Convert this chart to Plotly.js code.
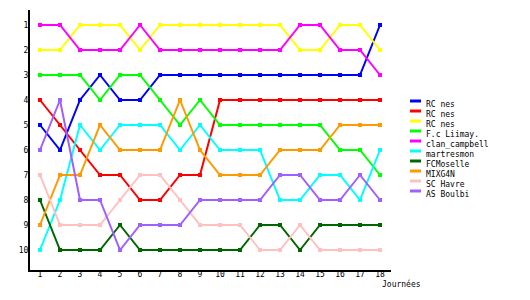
<!DOCTYPE html>
<html>
<head>
<meta charset="utf-8">
<script src="https://cdn.plot.ly/plotly-3.0.1.min.js"></script>
<style>html,body{margin:0;padding:0;background:#fff;}#chart{width:530px;height:300px;}</style>
</head>
<body>
<div id="chart"></div>
<script>
var journees = [1,2,3,4,5,6,7,8,9,10,11,12,13,14,15,16,17,18];
var teamNames = ["RC nes","RC nes","RC nes","F.c Liimay.","clan_campbell","martresmon","FCMoselle","MIXG4N","SC Havre","AS Boulbi"];
var teamColors = ["#0000ff","#ff0000","#ffff00","#00ff00","#ff00ff","#00ffff","#006600","#ff9900","#ffc0c0","#a060ff"];
var rcNesBlue   = [5,6,4,3,4,4,3,3,3,3,3,3,3,3,3,3,3,1];
var rcNesRed    = [4,5,6,7,7,8,8,7,7,4,4,4,4,4,4,4,4,4];
var rcNesYellow = [2,2,1,1,1,2,1,1,1,1,1,1,1,2,2,1,1,2];
var fcLiimay    = [3,3,3,4,3,3,4,5,4,5,5,5,5,5,5,6,6,7];
var clanCampbell= [1,1,2,2,2,1,2,2,2,2,2,2,2,1,1,2,2,3];
var martresmon  = [10,8,5,6,5,5,5,6,5,6,6,6,8,8,7,7,8,6];
var fcMoselle   = [8,10,10,10,9,10,10,10,10,10,10,9,9,10,9,9,9,9];
var mixg4n      = [9,7,7,5,6,6,6,4,6,7,7,7,6,6,6,5,5,5];
var scHavre     = [7,9,9,9,8,7,7,8,9,9,9,10,10,9,10,10,10,10];
var asBoulbi    = [6,4,8,8,10,9,9,9,8,8,8,8,7,7,8,8,7,8];
var rankTicks   = [1,2,3,4,5,6,7,8,9,10];
var xTitle = "Journées";

var series = [rcNesBlue,rcNesRed,rcNesYellow,fcLiimay,clanCampbell,martresmon,fcMoselle,mixg4n,scHavre,asBoulbi];
var FONT = "DejaVu Sans Mono";

var traces = series.map(function(s,i){
  return {x: journees, y: s, name: teamNames[i], type:"scatter", mode:"lines+markers",
    line:{color: teamColors[i], width:2},
    marker:{color: teamColors[i], size:4, symbol:"square"}};
});

// plot area in pixels: x 30..391, y 10..270
function px2x(px){return (px-30)/361;}
function py2y(py){return (270-py)/260;}

var shapes = [], annotations = [];
teamNames.forEach(function(n,i){
  var yy = 101 + i*10;
  shapes.push({type:"line", xref:"paper", yref:"paper", x0:px2x(410), x1:px2x(421), y0:py2y(yy), y1:py2y(yy),
    line:{color:teamColors[i], width:3}});
  annotations.push({xref:"paper", yref:"paper", x:px2x(424), y:py2y(yy+3.5), text:n, showarrow:false,
    xanchor:"left", yanchor:"middle", font:{family:FONT, size:8, color:"#000"}});
});
annotations.push({xref:"paper", yref:"paper", x:px2x(380), y:py2y(284), text:xTitle, showarrow:false,
  xanchor:"left", yanchor:"middle", font:{family:FONT, size:8, color:"#000"}});

var layout = {
  width:530, height:300,
  margin:{l:30, r:139, t:10, b:30, pad:0},
  paper_bgcolor:"#fff", plot_bgcolor:"#fff",
  showlegend:false,
  font:{family:FONT, size:8, color:"#000"},
  xaxis:{range:[0.5,18.55], tickvals:journees, ticktext:journees.map(String), showgrid:false, zeroline:false,
    showline:true, linecolor:"#000", linewidth:2, ticks:"", ticklabelstandoff:-5, tickfont:{family:FONT,size:8,color:"#000"}},
  yaxis:{range:[10.8,0.4], autorange:false, tickvals:rankTicks, ticktext:rankTicks.map(String), showgrid:false, zeroline:false,
    showline:true, linecolor:"#000", linewidth:2, ticks:"", ticklabelstandoff:-2, tickfont:{family:FONT,size:8,color:"#000"}},
  shapes:shapes, annotations:annotations
};
Plotly.newPlot("chart", traces, layout, {staticPlot:true, displayModeBar:false});
</script>
</body>
</html>
